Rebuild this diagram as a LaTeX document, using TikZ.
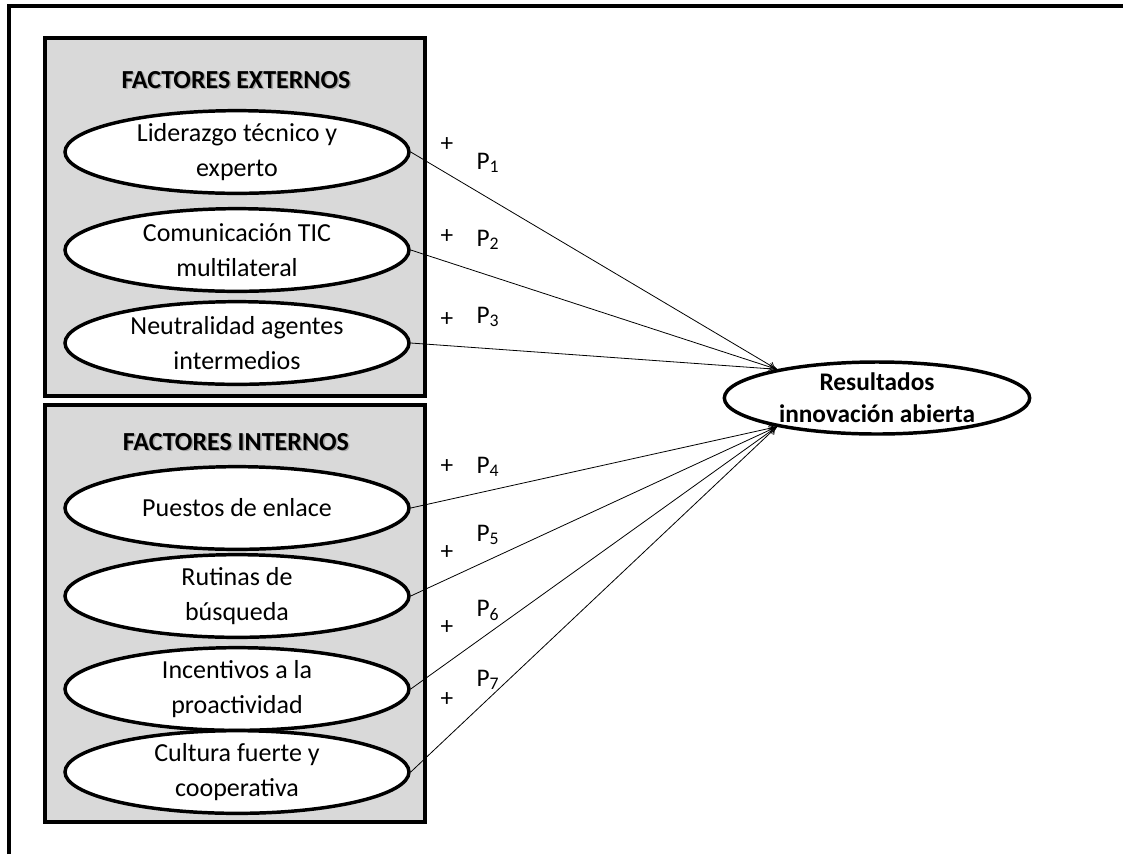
\documentclass[tikz,border=0pt]{standalone}
\usepackage{fontspec}
\setmainfont{Carlito}
\usetikzlibrary{shapes.geometric,arrows.meta}
\definecolor{boxgray}{HTML}{D9D9D9}

\begin{document}
\begin{tikzpicture}[x=0.75pt,y=-0.75pt,
        factor/.style={ellipse,draw,line width=2.6pt,fill=white,
            minimum width=258pt,minimum height=62pt,inner xsep=0pt,inner ysep=-8pt,
            align=center,font=\fontsize{19.5}{26}\selectfont},
        grupo/.style={draw,line width=2.6pt,fill=boxgray},
        titulo/.style={font=\fontsize{19.5}{21}\selectfont\bfseries},
        sombra/.style={titulo,text=black!35},
        flecha/.style={-{To[length=6pt,width=6pt]},line width=0.6pt},
        etiq/.style={font=\fontsize{19}{22}\selectfont,inner sep=0pt}]
        \useasboundingbox (0,0) rectangle (1123,854);

        % marco exterior (solo arriba e izquierda)
        \draw [line width=2.6pt] (9,854) -- (9,6) -- (1123,6);

        % grupos
        \draw [grupo] (45,38) rectangle (425,396);
        \draw [grupo] (45,405) rectangle (425,822);

        \node [sombra] (ext-s) at (237.5,81.5) {FACTORES EXTERNOS};
        \node [titulo] (ext) at (236,80) {FACTORES EXTERNOS};
        \node [sombra] (int-s) at (237.5,443.5) {FACTORES INTERNOS};
        \node [titulo] (int) at (236,442) {FACTORES INTERNOS};

        % factores externos
        \node [factor] (lid) at (237,152) {Liderazgo técnico y\\experto};
        \node [factor] (com) at (237,250) {Comunicación TIC\\multilateral};
        \node [factor] (neu) at (237,343) {Neutralidad agentes\\intermedios};

        % factores internos
        \node [factor] (pue) at (237,508) {Puestos de enlace};
        \node [factor] (rut) at (237,596) {Rutinas de\\búsqueda};
        \node [factor] (inc) at (237,689) {Incentivos a la\\proactividad};
        \node [factor] (cul) at (237,772) {Cultura fuerte y\\cooperativa};

        % resultado
        \node [ellipse,draw,line width=2.6pt,fill=white,minimum width=229pt,minimum height=54pt,
            inner xsep=0pt,inner ysep=-6pt,align=center,font=\fontsize{19}{24}\selectfont\bfseries]
            (res) at (877,398) {Resultados\\innovación abierta};

        \draw [flecha] (lid.east) -- (res.164);
        \draw [flecha] (com.east) -- (res.164);
        \draw [flecha] (neu.east) -- (res.164);
        \draw [flecha] (pue.east) -- (res.196);
        \draw [flecha] (rut.east) -- (res.196);
        \draw [flecha] (inc.east) -- (res.196);
        \draw [flecha] (cul.east) -- (res.196);

        % signos y proposiciones
        \foreach \i/\ym/\yp in {1/145/163, 2/237/240, 3/320/317, 4/467/467, 5/553/535, 6/628/610, 7/700/680} {
            \node [etiq] (mas\i) at (447,\ym) {+};
            \node [etiq] (p\i) at (488,\yp) {P\textsubscript{\i}};
        }
    \end{tikzpicture}
\end{document}
